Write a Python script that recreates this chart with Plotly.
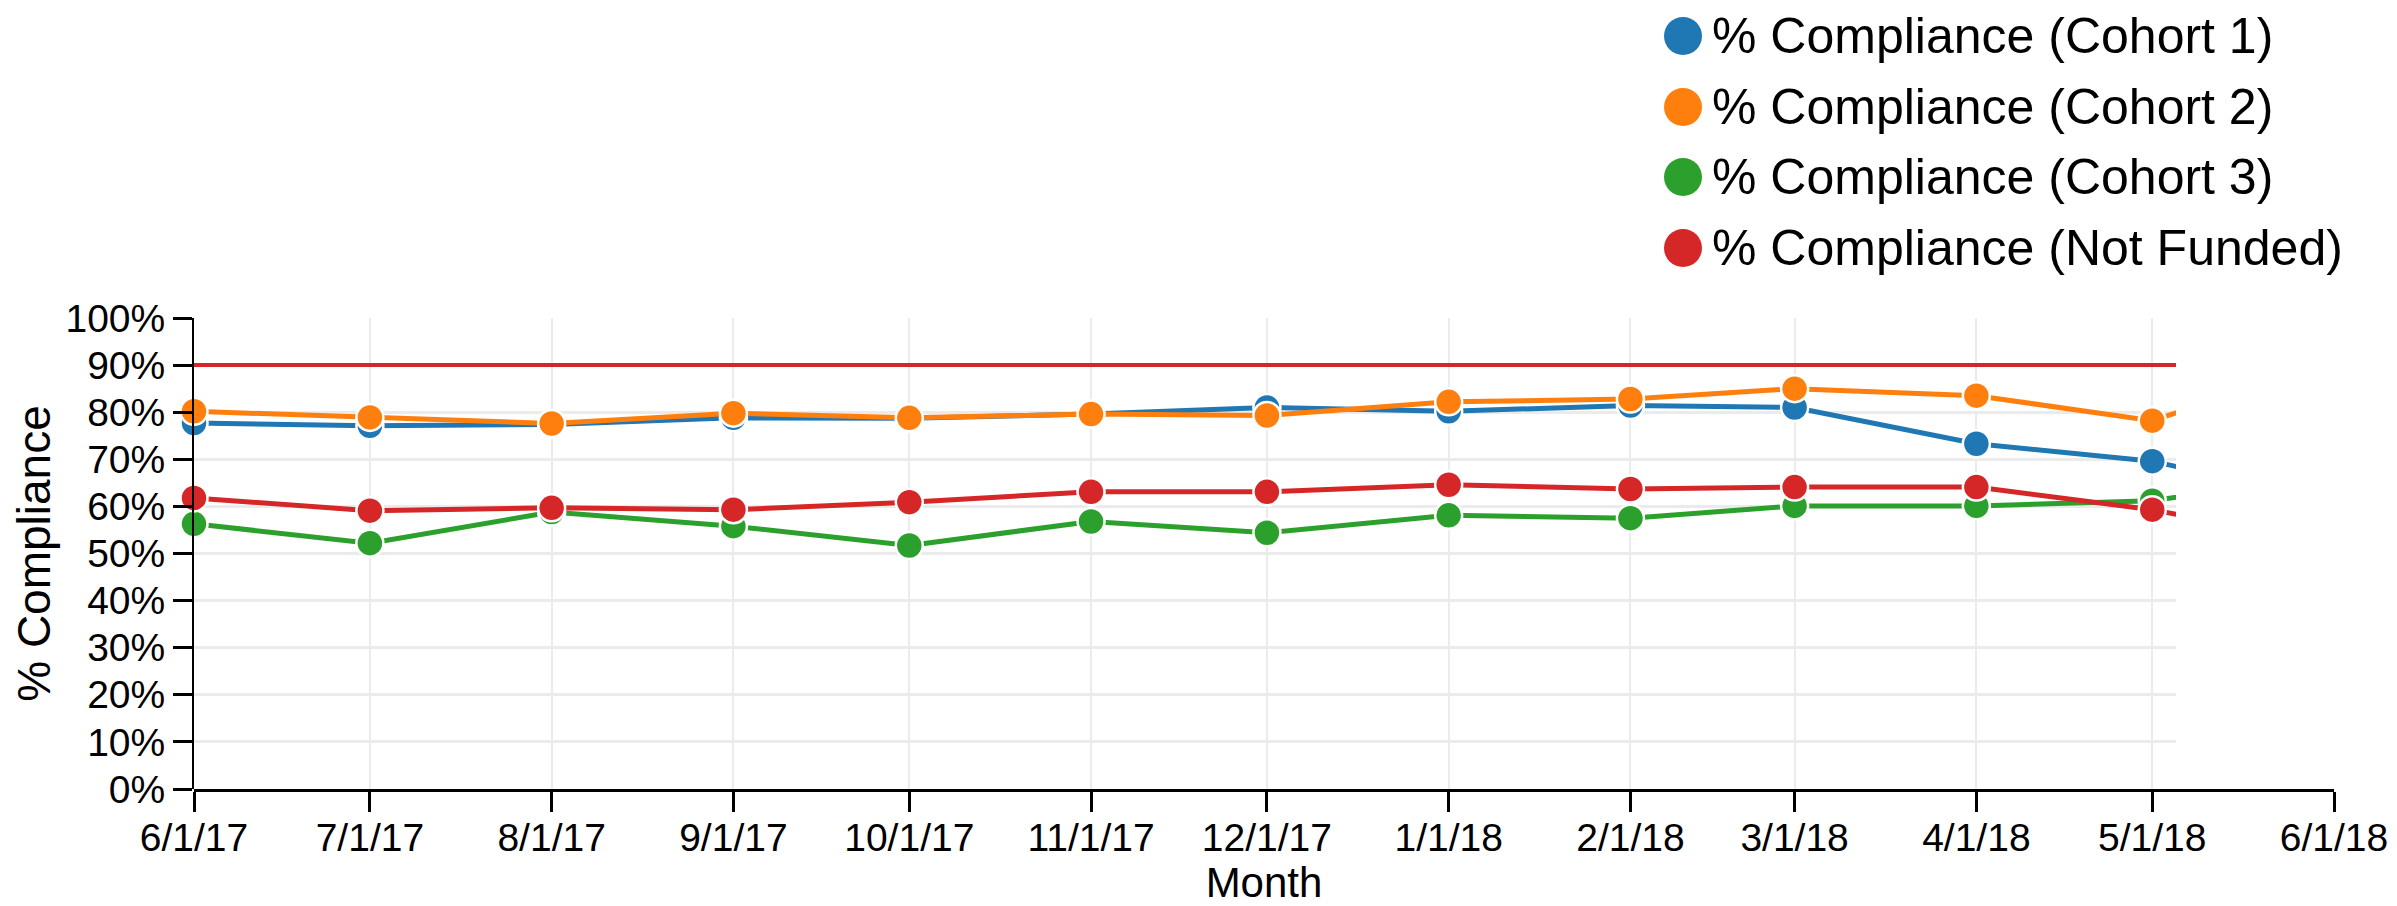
import plotly.graph_objects as go
import pandas as pd

# ---------------- data ----------------
months = ["2017-06-01", "2017-07-01", "2017-08-01", "2017-09-01", "2017-10-01",
          "2017-11-01", "2017-12-01", "2018-01-01", "2018-02-01", "2018-03-01",
          "2018-04-01", "2018-05-01", "2018-06-01"]
series_names = ["% Compliance (Cohort 1)", "% Compliance (Cohort 2)",
                "% Compliance (Cohort 3)", "% Compliance (Not Funded)"]
cohort1 = [77.7, 77.1, 77.4, 78.8, 78.7, 79.6, 81.0, 80.2, 81.4, 81.0, 73.3, 69.6, 61.0]
cohort2 = [80.2, 78.9, 77.6, 79.8, 78.8, 79.6, 79.3, 82.2, 82.8, 85.0, 83.5, 78.2, 91.0]
cohort3 = [56.3, 52.2, 58.8, 55.8, 51.7, 56.8, 54.4, 58.1, 57.5, 60.1, 60.1, 61.2, 67.0]
not_funded = [61.8, 59.1, 59.7, 59.3, 60.9, 63.1, 63.1, 64.6, 63.7, 64.1, 64.1, 59.3, 52.0]
target = 90
y_ticks = list(range(0, 101, 10))
y_tick_labels = [f"{v}%" for v in y_ticks]
colors = ["#1f77b4", "#ff7f0e", "#2ca02c", "#d62728"]

# ---------------- layout geometry (screen pixels, page has 8px body margin) ----------------
OFF = 8
W, H = 2397 - OFF, 906 - OFF
L, R, T, B = 194 - OFF, 2334 - OFF, 318 - OFF, 789 - OFF
clip_px = 2176 - OFF
frac = (clip_px - L) / (R - L)

start = pd.Timestamp(months[0])
end = pd.Timestamp(months[-1])
clip_end = (start + (end - start) * frac).strftime("%Y-%m-%d %H:%M:%S")
start_s = start.strftime("%Y-%m-%d")
end_s = end.strftime("%Y-%m-%d")


def px_x(p):
    return (p - OFF - L) / (R - L)


def px_y(p):
    return (B - (p - OFF)) / (B - T)


FONT = "Liberation Sans, Arial, sans-serif"

fig = go.Figure()
for name, vals, c in zip(series_names, [cohort1, cohort2, cohort3, not_funded], colors):
    fig.add_trace(go.Scatter(
        x=months, y=vals, name=name, mode="lines+markers",
        line=dict(color=c, width=5),
        marker=dict(color=c, size=27, line=dict(color="white", width=2.5)),
        cliponaxis=False, showlegend=False,
        xaxis="x", yaxis="y",
    ))

# dummy trace for the full-length labelled time axis
fig.add_trace(go.Scatter(x=[months[0], months[-1]], y=[None, None], mode="lines",
                         showlegend=False, hoverinfo="skip", xaxis="x2", yaxis="y2"))

# target line
fig.add_shape(type="line", xref="x domain", yref="y", x0=0, x1=1, y0=target, y1=target,
              line=dict(color="#d62728", width=4), layer="above")

# custom legend (large circles)
leg_rows = [36, 107, 177, 248]
for name, c, cy in zip(series_names, colors, leg_rows):
    fig.add_shape(type="circle", xref="paper", yref="paper",
                  xsizemode="pixel", ysizemode="pixel",
                  xanchor=px_x(1683), yanchor=px_y(cy),
                  x0=-19, x1=19, y0=-19, y1=19,
                  fillcolor=c, line=dict(width=0))
    fig.add_annotation(x=px_x(1710), y=px_y(cy), xref="paper", yref="paper",
                       text=name, showarrow=False, xanchor="left", yanchor="middle",
                       font=dict(family=FONT, size=50, color="black"))

fig.update_layout(
    width=W, height=H,
    margin=dict(l=L, r=W - R, t=T, b=H - B, pad=0, autoexpand=False),
    paper_bgcolor="white", plot_bgcolor="rgba(0,0,0,0)",
    font=dict(family=FONT, color="black"),
    showlegend=False,
    xaxis=dict(
        type="date", domain=[0, frac], anchor="y", range=[start_s, clip_end],
        tickvals=months, showgrid=True, gridcolor="#ebebeb", gridwidth=2,
        showticklabels=False, ticks="", showline=False, zeroline=False,
        automargin=False,
    ),
    yaxis=dict(
        domain=[0, 1], anchor="x", range=[0, 100],
        tickvals=y_ticks, ticktext=y_tick_labels,
        showgrid=True, gridcolor="#ebebeb", gridwidth=3, zeroline=False,
        showline=True, linecolor="black", linewidth=2,
        ticks="outside", ticklen=19, tickwidth=3, tickcolor="black",
        tickfont=dict(family=FONT, size=39, color="black"),
        ticklabelstandoff=0, automargin=False,
        title=dict(text="% Compliance", font=dict(family=FONT, size=46), standoff=1),
    ),
    xaxis2=dict(
        type="date", domain=[0, 1], anchor="y2", range=[start_s, end_s],
        tickvals=months, tickformat="%-m/%-d/%y", showgrid=False, zeroline=False,
        showline=True, linecolor="black", linewidth=3,
        ticks="outside", ticklen=20, tickwidth=3, tickcolor="black",
        tickfont=dict(family=FONT, size=39, color="black"),
        ticklabelstandoff=-8, automargin=False,
        title=dict(text="Month", font=dict(family=FONT, size=42), standoff=4),
    ),
    yaxis2=dict(domain=[0, 1], anchor="x2", range=[0, 100], visible=False),
)

fig.write_html("out.html")
